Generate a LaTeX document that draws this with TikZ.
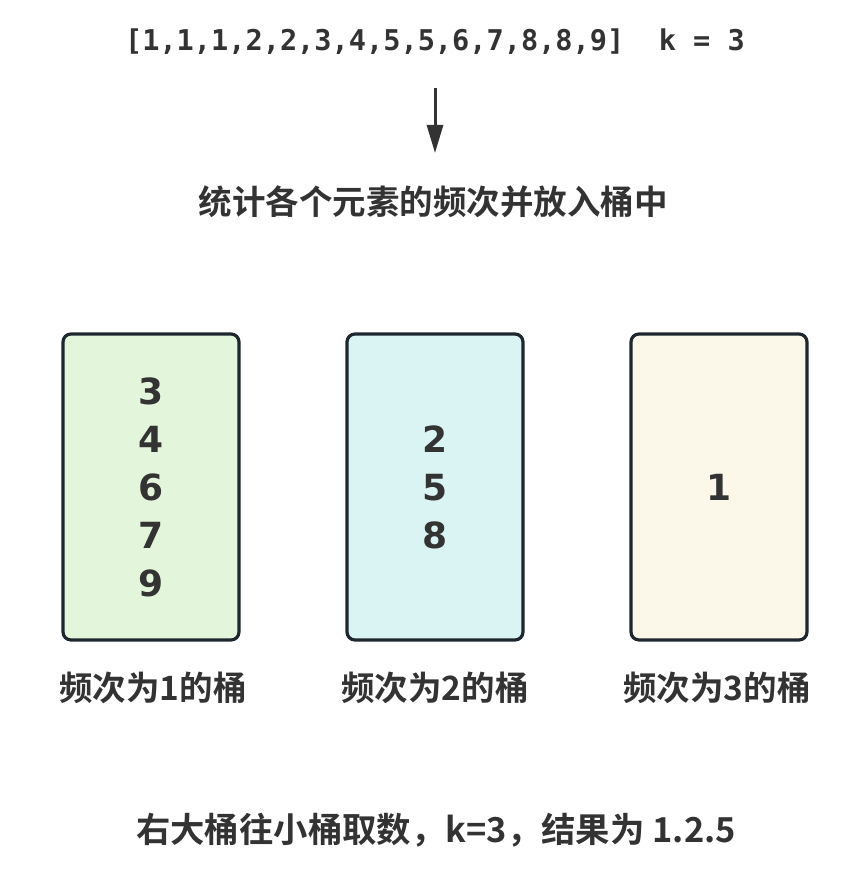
\documentclass[tikz,border=0pt]{standalone}
\usepackage{fontspec}
\usetikzlibrary{arrows.meta}
\newfontfamily\cjkb{Noto Sans CJK SC Bold}
\newfontfamily\monob{DejaVu Sans Mono Bold}
\newfontfamily\digb{DejaVu Sans Bold}
\definecolor{txt}{HTML}{333333}
\definecolor{edge}{HTML}{1E272E}
\definecolor{fillA}{HTML}{E3F5DB}
\definecolor{fillB}{HTML}{DAF4F4}
\definecolor{fillC}{HTML}{FBF8EA}
\tikzset{
  bucket/.style={draw=edge, line width=3.2pt, rounded corners=8pt,
    minimum width=176pt, minimum height=306pt, inner sep=0pt,
    align=center, text=txt, font=\digb\fontsize{36}{48}\selectfont},
  cjklabel/.style={text=txt, inner sep=0pt, font=\cjkb\fontsize{33.5}{40}\selectfont},
  arr/.style={draw=txt, line width=3pt, -{Triangle[length=28pt,width=16pt]}}
}
\begin{document}
\begin{tikzpicture}[x=1pt,y=-1pt]
\useasboundingbox (0,0) rectangle (864,880);
\node[text=txt, inner sep=0pt, font=\monob\fontsize{28.6}{34}\selectfont] (top) at (435,42) {[1,1,1,2,2,3,4,5,5,6,7,8,8,9]\ \ k = 3};
\node[cjklabel] (mid) at (433,202) {统计各个元素的频次并放入桶中};
\coordinate (a1) at (435,88);
\coordinate (a2) at (435,153);
\draw[arr] (a1) -- (a2);
\node[bucket, fill=fillA] (b1) at (151,487) {3\\4\\6\\7\\9};
\node[bucket, fill=fillB] (b2) at (435,487) {2\\5\\8};
\node[bucket, fill=fillC] (b3) at (719,487) {1};
\node[cjklabel] (l1) at (153,688) {频次为1的桶};
\node[cjklabel] (l2) at (435,688) {频次为2的桶};
\node[cjklabel] (l3) at (717,688) {频次为3的桶};
\node[cjklabel, font=\cjkb\fontsize{34.4}{40}\selectfont] (bot) at (436,830) {右大桶往小桶取数，k=3，结果为 1.2.5};
\end{tikzpicture}
\end{document}
